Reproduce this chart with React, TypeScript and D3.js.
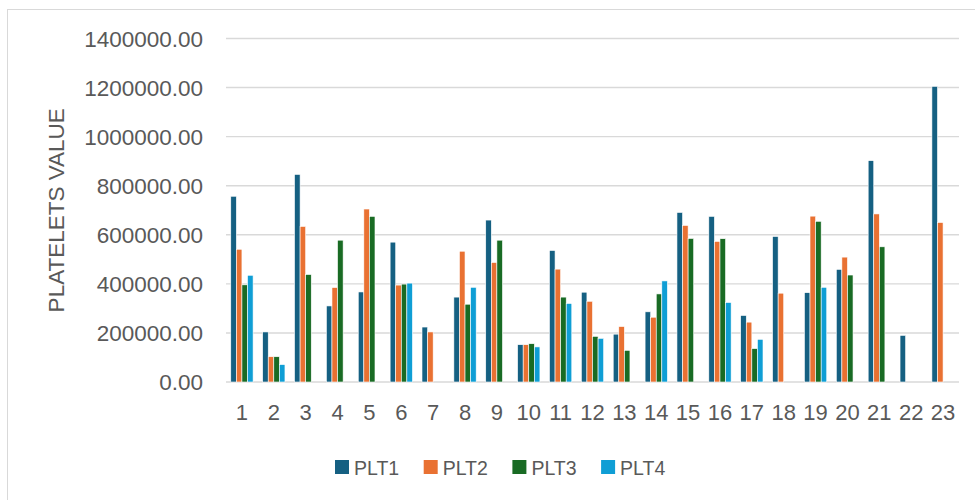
import React from 'react';
import * as d3 from 'd3';

const categories = ['1', '2', '3', '4', '5', '6', '7', '8', '9', '10', '11', '12', '13', '14', '15', '16', '17', '18', '19', '20', '21', '22', '23'];
const seriesNames = ['PLT1', 'PLT2', 'PLT3', 'PLT4'];
const seriesColors = ['#156082', '#E97132', '#196B24', '#0F9ED5'];

const plt1 = [757000, 204000, 846000, 310000, 367000, 570000, 224000, 346000, 660000, 152000, 536000, 366000, 195000, 286000, 691000, 675000, 271000, 593000, 364000, 459000, 902000, 190000, 1205000];
const plt2 = [541000, 103000, 634000, 385000, 705000, 395000, 204000, 533000, 487000, 152000, 460000, 329000, 226000, 264000, 638000, 573000, 244000, 362000, 676000, 509000, 685000, null, 650000];
const plt3 = [396000, 103000, 438000, 578000, 675000, 399000, null, 317000, 578000, 156000, 346000, 186000, 129000, 359000, 585000, 584000, 136000, null, 655000, 436000, 551000, null, null];
const plt4 = [435000, 71000, null, null, null, 403000, null, 386000, null, 143000, 320000, 178000, null, 412000, null, 324000, 174000, null, 386000, null, null, null, null];

const yTicks = [0, 200000, 400000, 600000, 800000, 1000000, 1200000, 1400000];

const W = 975;
const H = 500;
const plot = { left: 226, right: 959, top: 38.5, bottom: 382 };
const font = '"Liberation Sans", Arial, sans-serif';
const textColor = '#595959';

export default function App() {
  const series = [plt1, plt2, plt3, plt4];

  const x0 = d3.scaleBand<string>()
    .domain(categories)
    .range([plot.left, plot.right])
    .paddingInner(0.3)
    .paddingOuter(0.15);

  const x1 = d3.scaleBand<string>()
    .domain(seriesNames)
    .range([0, x0.bandwidth()]);

  const y = d3.scaleLinear()
    .domain([0, 1400000])
    .range([plot.bottom, plot.top]);

  const fmt = d3.format('.2f');

  return (
    <svg width={W} height={H} style={{ position: 'absolute', left: 0, top: 0, background: '#fff' }} fontFamily={font}>
      <rect x={7.5} y={9.5} width={W} height={H} fill="#fff" stroke="#D9D9D9" strokeWidth={1} />

      {/* gridlines */}
      {yTicks.map(t => (
        <line key={t} x1={plot.left} x2={plot.right} y1={y(t)} y2={y(t)} stroke="#D9D9D9" strokeWidth={1.4} />
      ))}

      {/* y tick labels */}
      {yTicks.map(t => (
        <text key={'l' + t} x={203} y={y(t)} dy="0.36em" textAnchor="end" fontSize={22.5} fill={textColor}>
          {fmt(t)}
        </text>
      ))}

      {/* y axis title */}
      <text
        transform={`translate(64,${(plot.top + plot.bottom) / 2}) rotate(-90)`}
        textAnchor="middle"
        fontSize={22.5}
        fill={textColor}
      >
        PLATELETS VALUE
      </text>

      {/* bars */}
      {categories.map((c, i) => (
        <g key={c} transform={`translate(${x0(c)},0)`}>
          {series.map((s, k) => {
            const v = s[i];
            if (v == null) return null;
            return (
              <rect
                key={k}
                x={x1(seriesNames[k])}
                y={y(v)}
                width={x1.bandwidth()}
                height={y(0) - y(v)}
                fill={seriesColors[k]}
                stroke="#fff"
                strokeWidth={0.6}
              />
            );
          })}
        </g>
      ))}

      {/* x labels */}
      {categories.map(c => (
        <text key={'x' + c} x={(x0(c) ?? 0) + x0.bandwidth() / 2} y={420} textAnchor="middle" fontSize={22} fill={textColor}>
          {c}
        </text>
      ))}

      {/* legend */}
      {seriesNames.map((n, k) => (
        <g key={n} transform={`translate(${335 + k * 88.7},460)`}>
          <rect width={14} height={14} fill={seriesColors[k]} />
          <text x={19} y={14.5} fontSize={19.5} fill={textColor}>{n}</text>
        </g>
      ))}
    </svg>
  );
}
